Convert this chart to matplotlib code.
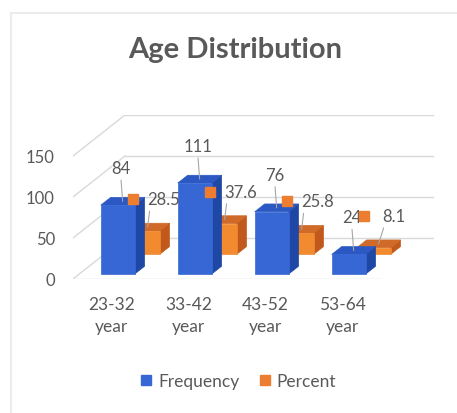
import matplotlib
matplotlib.use('Agg')
import matplotlib.pyplot as plt
from matplotlib.patches import Polygon
from matplotlib.lines import Line2D
from matplotlib.transforms import offset_copy

categories = ['23-32\nyear', '33-42\nyear', '43-52\nyear', '53-64\nyear']
frequency = [84, 111, 76, 24]
percent = [28.5, 37.6, 25.8, 8.1]
freq_text = ['84', '111', '76', '24']
pct_text = ['28.5', '37.6', '25.8', '8.1']
yticks = [0, 50, 100, 150]

plt.rcParams['font.family'] = ['Lato', 'DejaVu Sans']
grey = '#595959'
gridc = '#d9d9d9'

# fake 3d: going the full floor depth moves a point KX categories right and KY units up
KX, KY = 0.675, 50.0


def proj(x, v, d):
    return (x + KX * d, v + KY * d)


def box(ax, i, v, d0, d1, w, cfront, cside, ctop, z):
    x0, x1 = i - w / 2, i + w / 2
    front = [proj(x0, 0, d0), proj(x1, 0, d0), proj(x1, v, d0), proj(x0, v, d0)]
    side = [proj(x1, 0, d0), proj(x1, 0, d1), proj(x1, v, d1), proj(x1, v, d0)]
    top = [proj(x0, v, d0), proj(x1, v, d0), proj(x1, v, d1), proj(x0, v, d1)]
    for pts, c in ((side, cside), (top, ctop), (front, cfront)):
        ax.add_patch(Polygon(pts, closed=True, facecolor=c, edgecolor=c, lw=0.5, zorder=z))


fig = plt.figure(figsize=(4.57, 4.14), dpi=100)
ax = fig.add_axes([0.1597, 0.3237, 0.7919, 0.3961])
ax.set_xlim(-0.5, 4.2)
ax.set_ylim(0, 200)
for s in ax.spines.values():
    s.set_visible(False)

# walls / grid
for v in yticks:
    ax.plot([-0.5, -0.5 + KX], [v, v + KY], color=gridc, lw=1, zorder=1)
    ax.plot([-0.5 + KX, 3.5 + KX], [v + KY, v + KY], color=gridc, lw=1, zorder=1)
ax.plot([-0.5, 3.5], [0, 0], color=gridc, lw=1, zorder=1)

ax.set_yticks(yticks)
ax.set_yticklabels([str(t) for t in yticks])
ax.set_xticks(range(len(categories)))
ax.set_xticklabels(categories, linespacing=1.45)
ax.tick_params(axis='y', length=0, pad=13, labelsize=12, labelcolor=grey)
ax.tick_params(axis='x', length=0, pad=12, labelsize=12.5, labelcolor=grey)

w = 0.44
# back row first
for i, v in enumerate(percent):
    box(ax, i, v, 0.6, 0.79, w, '#f28a30', '#c0591b', '#cf6a28', 2)
for i, v in enumerate(frequency):
    box(ax, i, v, 0.12, 0.31, w, '#3767d4', '#1f47a6', '#2b58c2', 3)

# data labels with leader lines
for i, v in enumerate(frequency):
    ax.annotate(freq_text[i], xy=proj(i, v, 0.215), xytext=(-1.4, 24),
                textcoords='offset points', ha='center', va='center',
                fontsize=12, color=grey, zorder=5,
                arrowprops=dict(arrowstyle='-', color='#a6a6a6', lw=0.8,
                                relpos=(0.5, 0), shrinkA=1, shrinkB=0))

for i, v in enumerate(percent):
    xy = proj(i, v, 0.695)
    ax.annotate(pct_text[i], xy=xy, xytext=(11.2, 20.2),
                textcoords='offset points', ha='center', va='center',
                fontsize=12, color=grey, zorder=5,
                arrowprops=dict(arrowstyle='-', color='#a6a6a6', lw=0.8,
                                relpos=(0.1, 0), shrinkA=1, shrinkB=0))
    tr = offset_copy(ax.transData, fig=fig, x=-10.4, y=20.2, units='points')
    ax.plot([xy[0]], [xy[1]], marker='s', ms=6.5, color='#ed7d31', transform=tr,
            clip_on=False, zorder=6)

fig.text(235 / 457, 1 - 50 / 414, 'Age Distribution', ha='center', va='center',
         fontsize=21, fontweight='bold', color=grey)

handles = [Line2D([], [], marker='s', ls='', color='#3767d4', ms=6.5),
           Line2D([], [], marker='s', ls='', color='#ed7d31', ms=6.5)]
leg = fig.legend(handles, ['Frequency', 'Percent'], loc='center',
                 bbox_to_anchor=(238 / 457, 1 - 382 / 414), ncol=2, frameon=False,
                 handlelength=0.7, handletextpad=0.35, columnspacing=1.1,
                 fontsize=12.5)
for t in leg.get_texts():
    t.set_color(grey)

# faint chart-area border
fig.add_artist(Line2D([11 / 457, 11 / 457], [0, 1 - 14 / 414], color='#ececec', lw=1.5))
fig.add_artist(Line2D([11 / 457, 1], [1 - 14 / 414, 1 - 14 / 414], color='#ececec', lw=1.5))

fig.savefig('out.png', dpi=100)
